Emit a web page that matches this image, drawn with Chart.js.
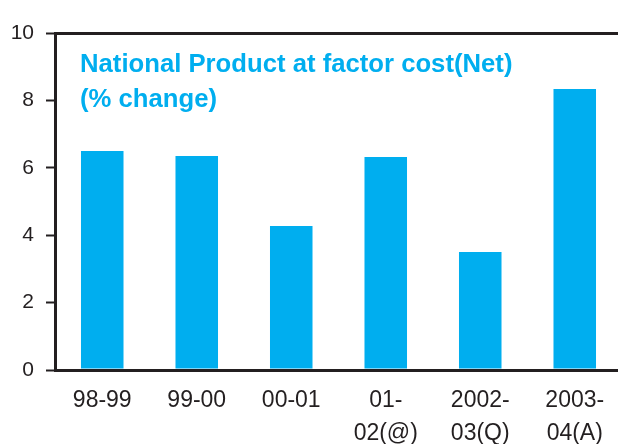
<!DOCTYPE html>
<html>
<head>
<meta charset="utf-8">
<script src="https://cdn.jsdelivr.net/npm/chart.js@4/dist/chart.umd.min.js"></script>
<style>
  html, body { margin: 0; padding: 0; background: #fff; overflow: hidden; }
  #wrap { width: 622px; height: 444px; position: relative; }
</style>
</head>
<body>
<div id="wrap"><canvas id="npChart"></canvas></div>
<script>
const years = ['98-99', '99-00', '00-01', ['01-', '02(@)'], ['2002-', '03(Q)'], ['2003-', '04(A)']];
const growth = [6.5, 6.35, 4.27, 6.32, 3.5, 8.34];
const titleLines = ['National Product at factor cost(Net)', '(% change)'];

const axisColor = '#231f20';
const barColor = '#00aeef';

// title sits inside the plot, top-left
const innerTitle = {
  id: 'innerTitle',
  afterDraw(chart) {
    const ctx = chart.ctx;
    ctx.save();
    ctx.font = 'bold 25.7px "Liberation Sans", Arial, sans-serif';
    ctx.fillStyle = barColor;
    ctx.textBaseline = 'middle';
    ctx.textAlign = 'left';
    titleLines.forEach((line, i) => {
      ctx.fillText(line, chart.chartArea.left + 25, chart.chartArea.top + 32 + i * 35);
    });
    ctx.restore();
  }
};

new Chart(document.getElementById('npChart'), {
  type: 'bar',
  data: {
    labels: years,
    datasets: [{
      label: 'National Product at factor cost(Net)',
      data: growth,
      backgroundColor: barColor,
      borderWidth: 0,
      barPercentage: 0.45,
      categoryPercentage: 1
    }]
  },
  options: {
    responsive: true,
    maintainAspectRatio: false,
    animation: false,
    layout: { padding: { top: 33, right: 0, left: 0, bottom: 0 } },
    plugins: {
      legend: { display: false },
      tooltip: { enabled: false }
    },
    scales: {
      x: {
        border: { display: true, color: axisColor, width: 3 },
        grid: { display: false, drawTicks: false },
        ticks: {
          color: '#231f20',
          padding: 14,
          maxRotation: 0,
          autoSkip: false,
          font: { family: '"Liberation Sans", Arial, sans-serif', size: 23, lineHeight: 1.45 }
        },
        afterFit(axis) { axis.height = 74; }
      },
      y: {
        min: 0,
        max: 10,
        border: { display: true, color: axisColor, width: 3 },
        grid: {
          drawOnChartArea: true,
          color: (c) => (c.tick && c.tick.value === 10 ? axisColor : 'transparent'),
          lineWidth: 3,
          tickColor: axisColor,
          tickLength: 9,
          tickWidth: 2
        },
        ticks: {
          stepSize: 2,
          color: '#231f20',
          padding: 12,
          font: { family: '"Liberation Sans", Arial, sans-serif', size: 21 }
        },
        afterFit(axis) { axis.width = 55; }
      }
    }
  },
  plugins: [innerTitle]
});
</script>
</body>
</html>
